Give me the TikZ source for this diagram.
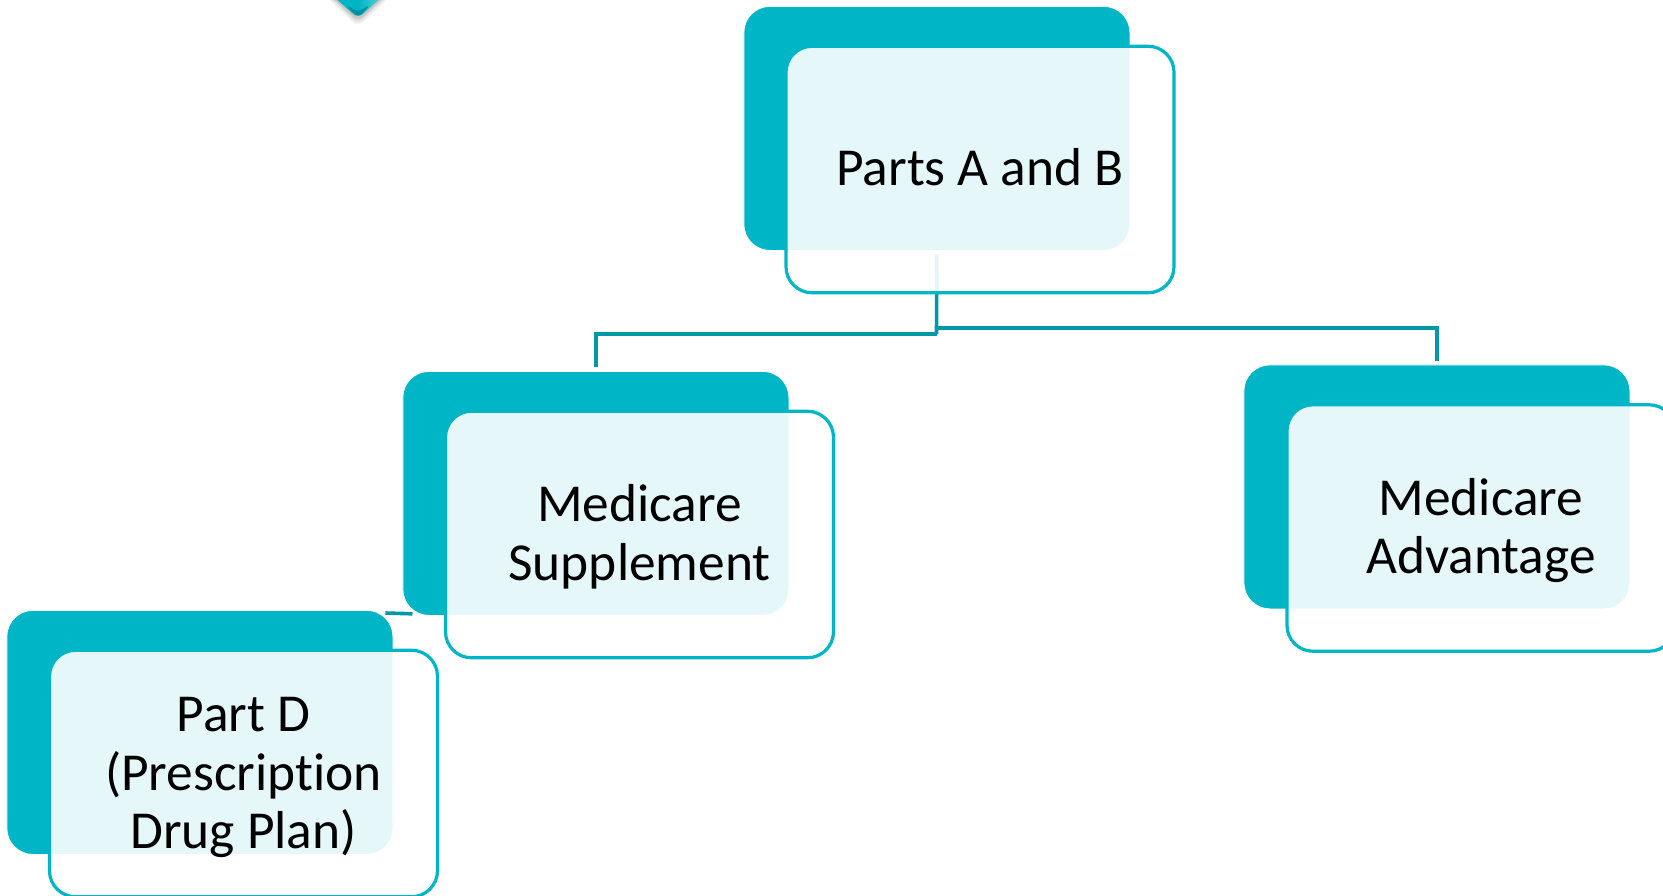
\documentclass[tikz,border=0pt]{standalone}
\usepackage{fontspec}
\setmainfont[Ligatures=NoCommon]{Carlito}
\definecolor{teal1}{HTML}{00B5C5}
\definecolor{conn1}{HTML}{0097A7}
\tikzset{
  x=1pt,y=-1pt,
  backbox/.style={draw=white,line width=0.8pt,fill=teal1,rounded corners=26pt,minimum width=386pt,minimum height=244pt,inner sep=0pt,anchor=north west},
  frontbox/.style={draw=teal1,line width=3.2pt,fill=white,fill opacity=.9,draw opacity=1,rounded corners=26pt,minimum width=388pt,minimum height=246.5pt,inner sep=0pt,anchor=center},
  boxtext/.style={inner sep=0pt,anchor=center,align=center,text=black,font=\fontsize{53.4}{58.8}\selectfont},
  conn/.style={draw=conn1,line width=3.6pt},
}
\begin{document}
\begin{tikzpicture}
\useasboundingbox (0,0) rectangle (1663,895);
\clip (0,0) rectangle (1663,895);
% gem at the top
\foreach \o/\g in {.05/7,.05/5,.06/3,.08/1.5}{
  \fill[black,opacity=\o,rounded corners=7pt] (330-\g,-6) -- (358,20+\g) -- (386+\g,-6) -- cycle;
}
\shade[rounded corners=6pt,left color=teal1,right color=teal1!55!white,middle color=teal1] (326,-10) -- (358,18) -- (390,-10) -- cycle;
\fill[teal1!80!black,rounded corners=6pt] (345,4) -- (358,18) -- (371,4) -- (358,12) -- cycle;
% nodes
\node[backbox] (a) at (743.5,6) {};
\node[backbox] (b) at (402.5,371) {};
\node[backbox] (c) at (1243.5,364.5) {};
\node[backbox] (d) at (6.5,610) {};
\coordinate (abus) at (936.5,334);
\coordinate (abusr) at (936.5,328);
% connectors lie below the boxes, so the boxes are drawn again above them
\draw[conn,shorten <=4pt,line cap=butt] (a.south) -- (abus);
\draw[conn,shorten >=4pt] (abus) -| (b.north);
\draw[conn,shorten >=3.5pt] (abusr) -| (c.north);
\draw[conn] ([shift={(-8pt,-3pt)}]d.north east) -- ([shift={(10pt,2pt)}]b.south west);
\node[backbox] at (743.5,6) {};
\node[backbox] at (402.5,371) {};
\node[backbox] at (1243.5,364.5) {};
\node[backbox] at (6.5,610) {};
\node[frontbox] (fa) at (980,169.5) {};
\node[frontbox] (fb) at (639.5,534.5) {};
\node[frontbox] (fc) at (1481,528) {};
\node[frontbox] (fd) at (243.5,773.5) {};
\node[boxtext] (ta) at (980,167) {Parts A and B};
\node[boxtext] (tb) at (639.5,537) {Medicare\\Supplement};
\node[boxtext] (tc) at (1481,530.5) {Medicare\\Advantage};
\node[boxtext] (td) at (243.5,777.5) {Part D\\(Prescription\\Drug Plan)};
\end{tikzpicture}
\end{document}
